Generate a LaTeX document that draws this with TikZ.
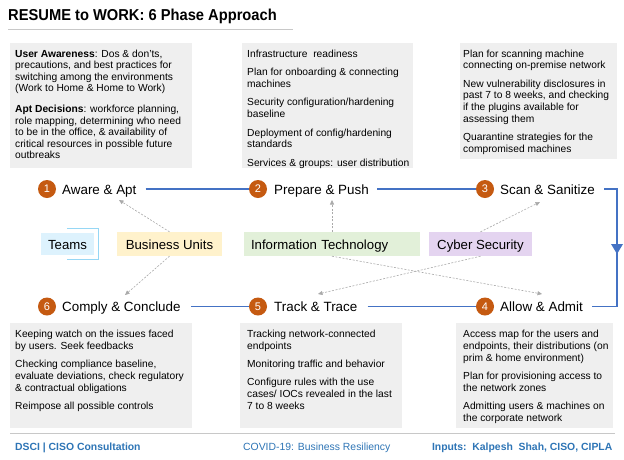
\documentclass[tikz,border=0pt]{standalone}
\usepackage{fontspec}
\setmainfont{Liberation Sans}
\newfontfamily\rtitlefam[FakeStretch=0.93]{Liberation Sans}
\usetikzlibrary{arrows.meta,calc}
\definecolor{boxgrey}{RGB}{239,239,239}
\definecolor{phaseorange}{RGB}{197,90,17}
\definecolor{flowblue}{RGB}{68,114,196}
\definecolor{dashgrey}{RGB}{170,170,170}
\definecolor{teamsfill}{RGB}{221,242,253}
\definecolor{teamsline}{RGB}{150,215,245}
\definecolor{bufill}{RGB}{255,242,204}
\definecolor{itfill}{RGB}{226,240,217}
\definecolor{csfill}{RGB}{228,212,240}
\definecolor{footblue}{RGB}{46,117,182}
\definecolor{rulegrey}{RGB}{200,200,200}
\newcommand\rtitle{\rtitlefam\bfseries\fontsize{15.8}{18}\selectfont}
\newcommand\rphase{\fontsize{13.4}{15}\selectfont}
\newcommand\rlab{\fontsize{13.2}{15}\selectfont}
\newcommand\rnum{\fontsize{11}{12}\selectfont}
\newcommand\rfoot{\fontsize{10.4}{12}\selectfont}
\newcommand\rtop[2]{\parbox[t]{200pt}{\fontsize{10.25}{11.6}\selectfont\raggedright\setlength\parskip{#1}#2}}
\newcommand\rbot[2]{\parbox[t]{200pt}{\fontsize{10.25}{12.1}\selectfont\raggedright\setlength\parskip{#1}#2}}
\begin{document}
\begin{tikzpicture}[x=1pt,y=-1pt,
  infobox/.style={fill=boxgrey},
  bodytext/.style={anchor=base west, inner sep=0},
  phase/.style={anchor=base west, inner sep=0, font=\rphase},
  num/.style={circle, fill=phaseorange, text=white, minimum size=18pt, inner sep=0, font=\rnum},
  flow/.style={draw=flowblue, line width=1.2pt},
  link/.style={draw=dashgrey, line width=0.6pt, dash pattern=on 2pt off 1.5pt, -{Triangle[length=4.5pt,width=4pt]}},
  tag/.style={inner sep=0, minimum height=24pt, text height=10pt, text depth=0pt, font=\rlab},
  foot/.style={inner sep=0, font=\rfoot, text=footblue}]
\useasboundingbox (0,0) rectangle (624,459);
\fill[white] (0,0) rectangle (624,459);

% title
\node[anchor=base west, inner sep=0, font=\rtitle] (title) at (8,20.7) {RESUME to WORK: 6 Phase Approach};
\draw[rulegrey, line width=1pt] (8,29) -- (293,29);

% top boxes
\fill[infobox] (10,43) rectangle (192,168);
\fill[infobox] (242,43) rectangle (413,168);
\fill[infobox] (460,43) rectangle (617,159);
\node[bodytext] (t1) at (15,57) {\rtop{9pt}{\textbf{User Awareness}: Dos \& don'ts,\\precautions, and best practices for\\switching among the environments\\(Work to Home \& Home to Work)\par
\textbf{Apt Decisions}: workforce planning,\\role mapping, determining who need\\to be in the office, \& availability of\\critical resources in possible future\\outbreaks}};
\node[bodytext] (t2) at (247,57) {\rtop{7pt}{Infrastructure\ \ readiness\par
Plan for onboarding \& connecting\\machines\par
Security configuration/hardening\\baseline\par
Deployment of config/hardening\\standards\par
Services \& groups: user distribution}};
\node[bodytext] (t3) at (463,57) {\rtop{7pt}{Plan for scanning machine\\connecting on-premise network\par
New vulnerability\ disclosures in\\past 7 to 8 weeks, and checking\\if the plugins available for\\assessing them\par
Quarantine strategies for the\\compromised machines}};

% bottom boxes
\fill[infobox] (10,323) rectangle (192,428);
\fill[infobox] (240,323) rectangle (402,428);
\fill[infobox] (456,323) rectangle (613,428);
\node[bodytext] (t6) at (15,337) {\rbot{6pt}{Keeping watch on the issues faced\\by users. Seek feedbacks\par
Checking compliance baseline,\\evaluate deviations, check regulatory\\\& contractual\ obligations\par
Reimpose all possible controls}};
\node[bodytext] (t5) at (247,337) {\rbot{6pt}{Tracking network-connected\\endpoints\par
Monitoring traffic and behavior\par
Configure rules with the use\\cases/ IOCs revealed in the last\\7 to 8 weeks}};
\node[bodytext] (t4) at (463,337) {\rbot{6pt}{Access map for the users and\\endpoints, their distributions (on\\prim \& home environment)\par
Plan for provisioning access to\\the network zones\par
Admitting users \& machines on\\the corporate network}};

% phase circles and labels
\node[num] (c1) at (47,189) {1};
\node[num] (c2) at (258,189) {2};
\node[num] (c3) at (485,189) {3};
\node[num] (c4) at (485,306.5) {4};
\node[num] (c5) at (258,306.5) {5};
\node[num] (c6) at (47,306.5) {6};
\node[phase] (p1) at (62,194) {Aware \& Apt};
\node[phase] (p2) at (274,194) {Prepare \& Push};
\node[phase] (p3) at (500,194) {Scan \& Sanitize};
\node[phase] (p4) at (500,311.5) {Allow\ \& Admit};
\node[phase] (p5) at (274,311.5) {Track \& Trace};
\node[phase] (p6) at (62,311.5) {Comply\ \& Conclude};

% flow connectors
\coordinate (k1) at (617,189);
\coordinate (k2) at (617,306.5);
\coordinate (km) at (617,249);
\draw[flow, shorten <=9pt] (p1.east |- c1) -- (c2.west);
\draw[flow, shorten <=8pt] (p2.east |- c2) -- (c3.west);
\draw[flow, shorten <=9pt, shorten >=9pt] (p3.east |- c3) -- (k1) -- (k2) -- (p4.east |- c4);
\draw[flow, shorten <=10pt] (p5.east |- c5) -- (c4.west);
\draw[flow, shorten <=10pt] (p6.east |- c6) -- (c5.west);
\fill[flowblue] (km) ++(-6,-5) -- ++(12,0) -- ++(-6,10) -- cycle;

% stakeholder tags
\draw[teamsline, line width=0.9pt] (67,228) -- (98,228) -- (98,259) -- (67,259);
\node[tag, fill=teamsfill, minimum width=53pt, minimum height=22pt] (teams) at (67.5,244) {Teams};
\node[tag, fill=bufill, minimum width=105pt] (bu) at (169.5,244) {Business Units};
\node[tag, fill=itfill, text width=162pt, align=left, inner xsep=7pt] (it) at (332,244) {Information Technology};
\node[tag, fill=csfill, minimum width=103pt] (cs) at (480.5,244) {Cyber Security};

% dashed influence arrows
\coordinate (e1) at (119,200);
\coordinate (e6) at (125,295);
\coordinate (e2) at (332,200);
\coordinate (e4) at (542,294);
\coordinate (e3) at (540,202);
\coordinate (e5) at (318,294);
\draw[link] (bu.north) -- (e1);
\draw[link] (bu.south) -- (e6);
\draw[link] (it.north) -- (e2);
\draw[link] (it.south) -- (e4);
\draw[link] (cs.north) -- (e3);
\draw[link] (cs.south) -- (e5);

% footer
\draw[rulegrey, line width=0.9pt] (10,433) -- (615,433);
\node[foot, anchor=base west, font=\rfoot\bfseries] (f1) at (15,450) {DSCI | CISO Consultation};
\node[foot, anchor=base west] (f2) at (243,450) {COVID-19: Business Resiliency};
\node[foot, anchor=base east, font=\rfoot\bfseries] (f3) at (612.5,450) {Inputs:\ \ Kalpesh\ \ Shah, CISO, CIPLA};
\end{tikzpicture}
\end{document}
